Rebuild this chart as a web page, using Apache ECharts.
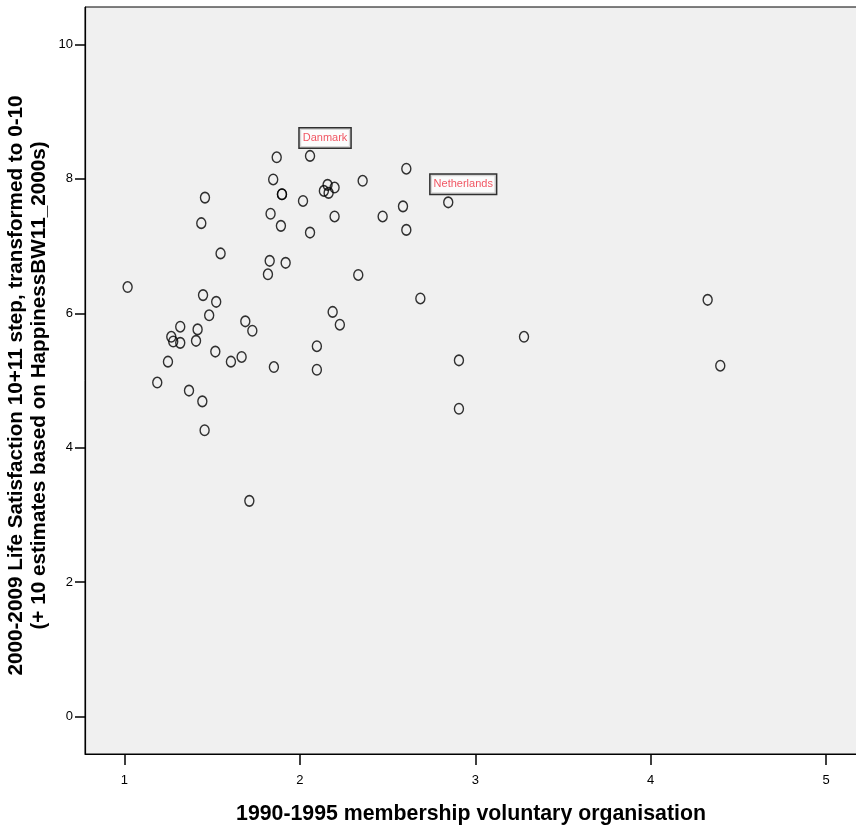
<!DOCTYPE html>
<html>
<head>
<meta charset="utf-8">
<script src="https://cdn.jsdelivr.net/npm/echarts@6/dist/echarts.min.js"></script>
<style>html,body{margin:0;padding:0;background:#fff}#c{width:856px;height:831px}</style>
</head>
<body>
<div id="c"></div>
<script>
// membership voluntary organisation (x) values
const xValues = [1.018,1.187,1.248,1.267,1.278,1.318,1.318,1.368,1.408,1.417,1.438,1.444,1.448,1.457,1.459,1.483,1.518,1.523,1.548,1.607,1.668,1.689,1.712,1.729,1.818,1.828,1.833,1.848,1.852,1.868,1.892,1.898,1.898,1.919,2.018,2.058,2.058,2.097,2.097,2.137,2.158,2.164,2.187,2.198,2.198,2.228,2.333,2.358,2.472,2.588,2.607,2.607,2.687,2.846,2.907,2.907,3.278,4.325,4.397];
// life satisfaction (y) values
const yValues = [6.39,4.97,5.28,5.65,5.58,5.80,5.56,4.85,5.59,5.76,7.34,4.69,6.27,4.26,7.72,5.97,5.43,6.17,6.89,5.28,5.35,5.88,3.21,5.74,6.58,6.78,7.48,7.99,5.20,8.32,7.30,7.77,7.77,6.75,7.67,8.34,7.20,5.51,5.16,7.82,7.91,7.79,6.02,7.87,7.44,5.83,6.57,7.97,7.44,7.59,8.15,7.24,6.22,7.65,5.30,4.58,5.65,6.20,5.22];
// labelled points
const labelNames = {35: 'Danmark', 53: 'Netherlands'};
const xTicks = [1,2,3,4,5];
const yTicks = [0,2,4,6,8,10];
const xTitle = '1990-1995 membership voluntary organisation';
const yTitle = '2000-2009 Life Satisfaction 10+11 step, transformed to 0-10\n(+ 10 estimates based on HappinessBW11_2000s)';

const data = xValues.map((x, i) => {
  const item = {value: [x, yValues[i]], name: labelNames[i] || ''};
  if (labelNames[i]) {
    item.label = {show: true};
  }
  return item;
});

const chart = echarts.init(document.getElementById('c'), null, {renderer: 'canvas'});
chart.setOption({
  animation: false,
  backgroundColor: '#ffffff',
  grid: {
    left: 85, top: 7, right: -1, bottom: 77,
    containLabel: false, outerBoundsMode: 'none',
    show: true, backgroundColor: '#f0f0f0', borderColor: '#000', borderWidth: 1
  },
  xAxis: {
    type: 'value', min: 0.775, max: 5.1765,
    name: xTitle, nameLocation: 'middle', nameGap: 50, nameMoveOverlap: false,
    nameTextStyle: {fontFamily: 'Liberation Sans, Arial', fontWeight: 'bold', fontSize: 21.3, color: '#000'},
    axisLine: {show: true, onZero: false, lineStyle: {color: '#000', width: 1.2}},
    axisTick: {show: true, length: 11, customValues: xTicks, lineStyle: {color: '#000', width: 1.5}},
    axisLabel: {customValues: xTicks, margin: 20, fontFamily: 'Liberation Sans, Arial', fontSize: 13, color: '#000'},
    splitLine: {show: false}
  },
  yAxis: {
    type: 'value', min: -0.555, max: 10.555,
    name: yTitle, nameLocation: 'middle', nameGap: 34, nameRotate: 90, nameMoveOverlap: false,
    nameTextStyle: {fontFamily: 'Liberation Sans, Arial', fontWeight: 'bold', fontSize: 20.7, color: '#000', lineHeight: 23, padding: [0, 10, 0, 0]},
    axisLine: {show: true, onZero: false, lineStyle: {color: '#000', width: 1.2}},
    axisTick: {show: true, length: 10, customValues: yTicks, lineStyle: {color: '#000', width: 1.5}},
    axisLabel: {customValues: yTicks, margin: 12, fontFamily: 'Liberation Sans, Arial', fontSize: 13, color: '#000'},
    splitLine: {show: false}
  },
  series: [{
    type: 'scatter',
    data: data,
    symbol: 'circle',
    symbolSize: [9, 10.5],
    itemStyle: {color: 'rgba(0,0,0,0)', borderColor: '#000', borderWidth: 1.5},
    emphasis: {disabled: true},
    label: {
      show: false,
      formatter: p => p.name,
      position: 'inside',
      offset: [15, -18],
      backgroundColor: '#fff',
      borderColor: '#000',
      borderWidth: 1.5,
      padding: [4, 3, 4, 3],
      fontFamily: 'Liberation Sans, Arial',
      fontSize: 11,
      color: '#ee2c3c'
    }
  }]
});
</script>
</body>
</html>
